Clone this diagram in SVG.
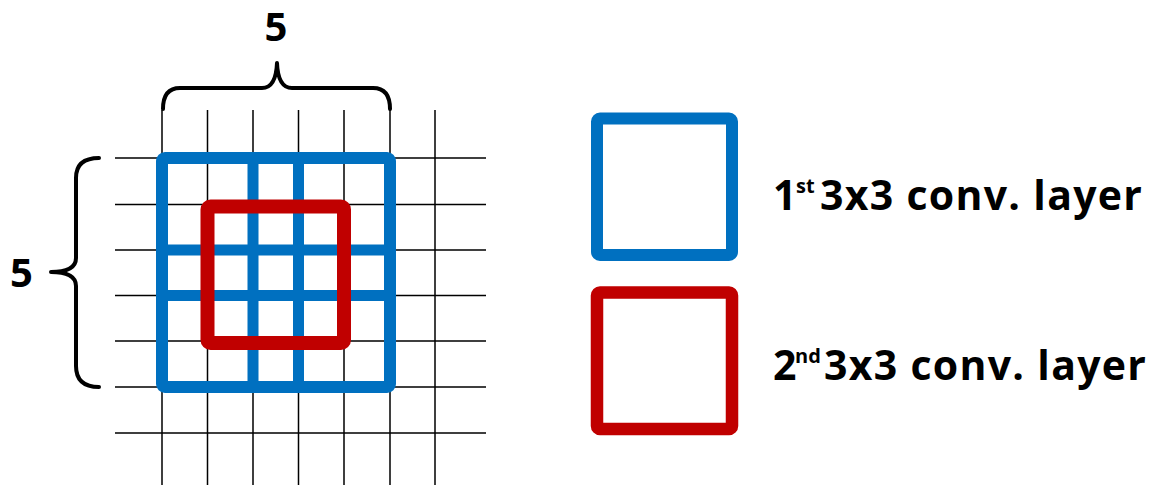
<svg xmlns="http://www.w3.org/2000/svg" width="1167" height="485" viewBox="0 0 1167 485">
<style>
.grid{stroke:#000;stroke-width:1.5;fill:none}
.blue{stroke:#0070C0;fill:none;stroke-linejoin:round}
.red{stroke:#C00000;fill:none;stroke-linejoin:round}
.brace{stroke:#000;stroke-width:4;fill:none;stroke-linecap:round;stroke-linejoin:round}
.t{font-family:"Open Sans","Liberation Sans",sans-serif;font-weight:bold;fill:#000}
.sup{font-size:20px}
.main{letter-spacing:1.3px}
</style>
<rect width="1167" height="485" fill="#fff"/>
<g id="grid" class="grid">
<path d="M162,110V485M207.5,110V485M253,110V485M298.5,110V485M344,110V485M390,110V485M435,110V485"/>
<path d="M115,158H486M115,204.5H486M115,250H486M115,295.5H486M115,341H486M115,387H486M115,433H486"/>
</g>
<g id="layer1-field">
<rect class="blue" x="162" y="158" width="228" height="229" rx="3" stroke-width="12"/>
<path class="blue" stroke-width="11" d="M253,158V387M298.5,158V387M162,250H390M162,295.5H390"/>
</g>
<g id="layer2-field">
<rect class="red" x="207.5" y="206.5" width="136.5" height="136.5" rx="3" stroke-width="14"/>
</g>
<g id="connectors">
<path class="brace" d="M163,109 Q163,88 180,88 L262,88 Q276,88 277,63 Q278,88 292,88 L373,88 Q390,88 390,109"/>
<path class="brace" d="M99,158 Q76,158 76,178 L76,258 Q76,272 51,272 Q76,272 76,286 L76,366 Q76,387 99,387"/>
</g>
<g id="label-top"><text class="t" x="276" y="41" font-size="40" text-anchor="middle">5</text></g>
<g id="label-left"><text class="t" x="21.5" y="287" font-size="40" text-anchor="middle">5</text></g>
<g id="legend-1">
<rect class="blue" x="597" y="118.5" width="135" height="136.5" rx="3" stroke-width="12"/>
<text class="t" x="773" y="210" font-size="41">1<tspan class="sup" x="796" dy="-17">st</tspan><tspan class="main" x="820" dy="17">3x3 conv. layer</tspan></text>
</g>
<g id="legend-2">
<rect class="red" x="597" y="292.5" width="135" height="136.5" rx="3" stroke-width="12.5"/>
<text class="t" x="773" y="380" font-size="41">2<tspan class="sup" x="795" dy="-17">nd</tspan><tspan class="main" x="824" dy="17">3x3 conv. layer</tspan></text>
</g>
</svg>
